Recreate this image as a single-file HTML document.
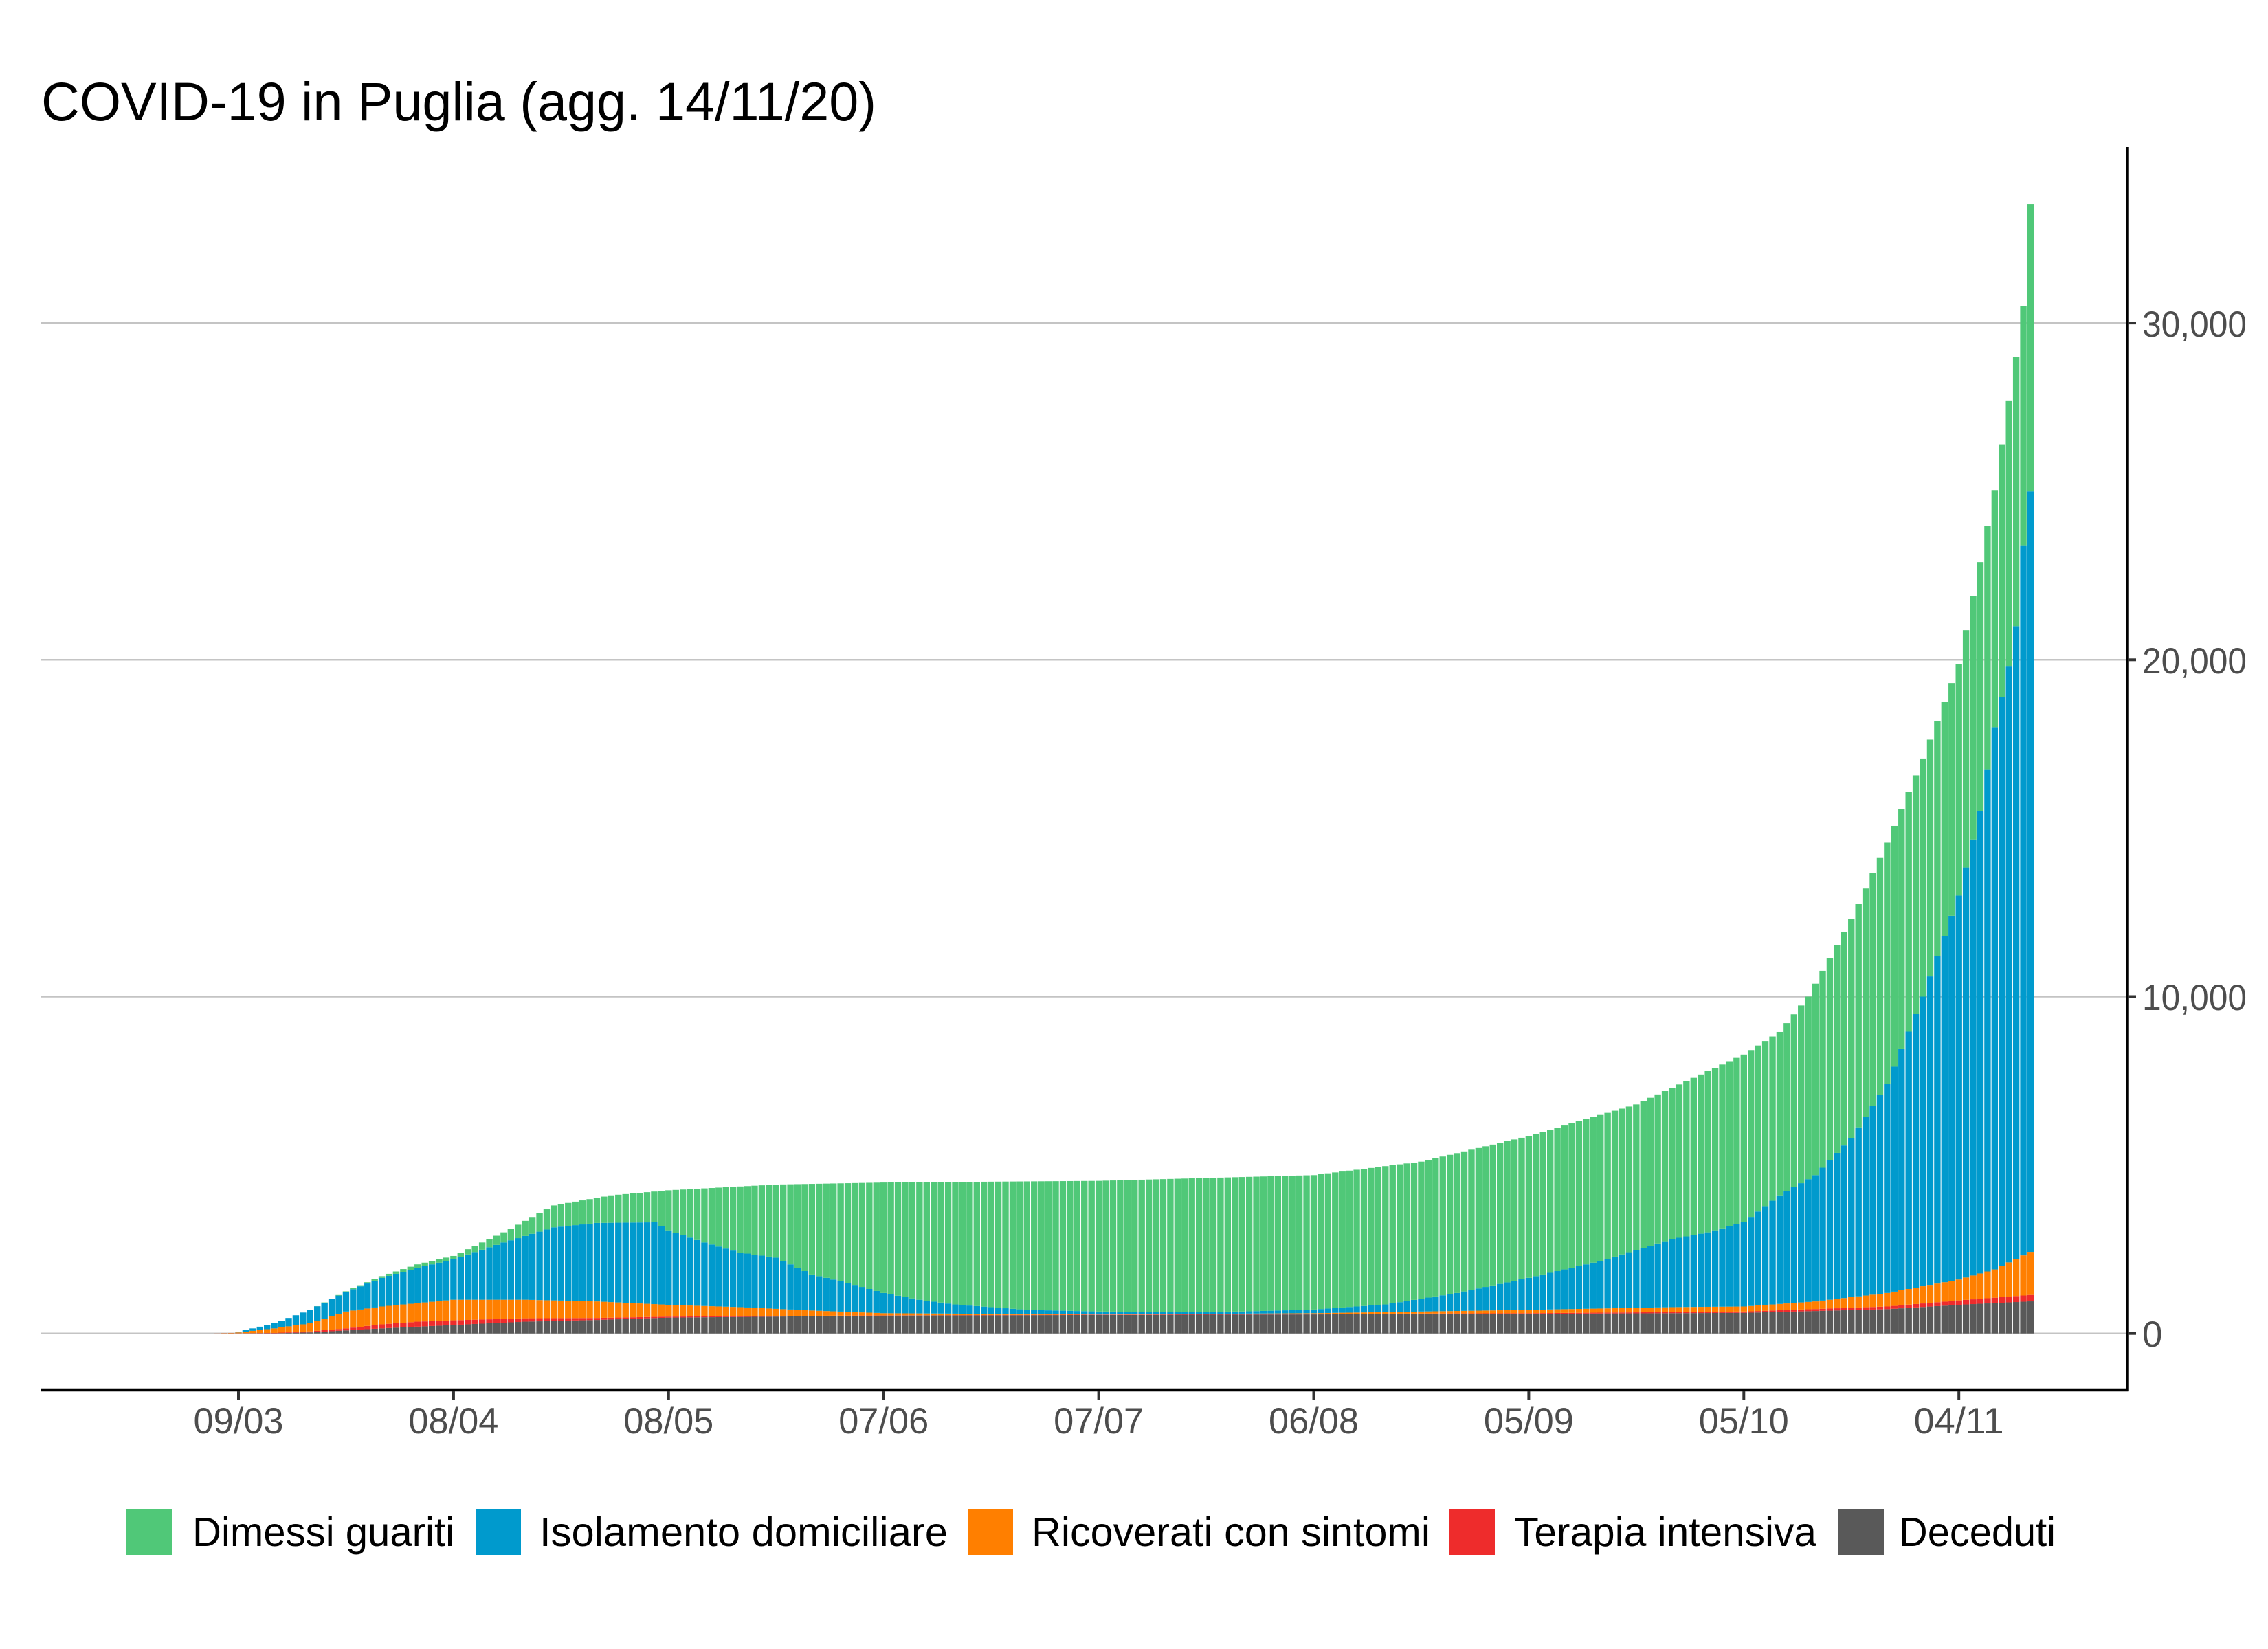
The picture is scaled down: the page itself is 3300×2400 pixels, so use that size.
<!DOCTYPE html>
<html><head><meta charset="utf-8">
<style>
html,body{margin:0;padding:0;background:#fff;}
svg{display:block;}
text{font-family:"Liberation Sans",sans-serif;}
</style></head>
<body>
<svg id="s" width="3300" height="2400" viewBox="0 0 3300 2400" xmlns="http://www.w3.org/2000/svg">
<rect width="3300" height="2400" fill="#fff"/>
<text x="60" y="175" font-size="79" fill="#000" textLength="1215" lengthAdjust="spacingAndGlyphs">COVID-19 in Puglia (agg. 14/11/20)</text>
<g stroke="#c4c4c4" stroke-width="2.5">
<line x1="59" x2="3096" y1="1940.7" y2="1940.7"/>
<line x1="59" x2="3096" y1="1450.5" y2="1450.5"/>
<line x1="59" x2="3096" y1="960.3" y2="960.3"/>
<line x1="59" x2="3096" y1="470.1" y2="470.1"/>
</g>
<g id="bars"></g>
<g stroke="#000" stroke-width="4.5" fill="none">
<line x1="3095.5" y1="214" x2="3095.5" y2="2025"/>
<line x1="59" y1="2023" x2="3097.5" y2="2023"/>
</g>
<g stroke="#333" stroke-width="4">
<line x1="3096" x2="3108" y1="1940.7" y2="1940.7"/>
<line x1="3096" x2="3108" y1="1450.5" y2="1450.5"/>
<line x1="3096" x2="3108" y1="960.3" y2="960.3"/>
<line x1="3096" x2="3108" y1="470.1" y2="470.1"/>
</g>
<g font-size="53" fill="#4d4d4d">
<text x="3117" y="1960">0</text>
<text x="3117" y="1470" textLength="152" lengthAdjust="spacingAndGlyphs">10,000</text>
<text x="3117" y="980" textLength="152" lengthAdjust="spacingAndGlyphs">20,000</text>
<text x="3117" y="490" textLength="152" lengthAdjust="spacingAndGlyphs">30,000</text>
</g>
<g id="xt" stroke="#333" stroke-width="4"></g>
<g id="xl" font-size="53" fill="#4d4d4d" text-anchor="middle"></g>
<g>
<rect x="184" y="2196" width="66" height="67" fill="#50c878"/>
<rect x="692" y="2196" width="66" height="67" fill="#009acd"/>
<rect x="1408" y="2196" width="66" height="67" fill="#ff7f00"/>
<rect x="2109" y="2196" width="66" height="67" fill="#ee2c2c"/>
<rect x="2675" y="2196" width="66" height="67" fill="#595959"/>
</g>
<g font-size="59" fill="#000">
<text x="280" y="2250" textLength="381" lengthAdjust="spacingAndGlyphs">Dimessi guariti</text>
<text x="785" y="2250" textLength="594" lengthAdjust="spacingAndGlyphs">Isolamento domiciliare</text>
<text x="1501" y="2250" textLength="580" lengthAdjust="spacingAndGlyphs">Ricoverati con sintomi</text>
<text x="2203" y="2250" textLength="440" lengthAdjust="spacingAndGlyphs">Terapia intensiva</text>
<text x="2763" y="2250" textLength="228" lengthAdjust="spacingAndGlyphs">Deceduti</text>
</g>
</svg>
<script>
(function(){
var NS="http://www.w3.org/2000/svg";
function interp(pts,d){
 if(d<=pts[0][0])return pts[0][1];
 for(var i=1;i<pts.length;i++){if(d<=pts[i][0]){var a=pts[i-1],b=pts[i];return a[1]+(b[1]-a[1])*(d-a[0])/(b[0]-a[0]);}}
 return pts[pts.length-1][1];
}
var total=[[-4,0],[-3,3],[-1,15],[0,50],[5,300],[10,700],[15,1250],[20,1700],[25,2050],[30,2300],[37,3000],[44,3800],[52,4100],[60,4250],[75,4420],[90,4480],[120,4530],[150,4700],[165,5100],[180,5860],[195,6800],[210,8280],[215,8950],[219,10000],[225,12300],[230,14570],[235,17070],[240,19870],[243,22900],[245,25040],[246,26400],[247,27700],[248,29000],[249,30500],[250,33530]];
var blue=[[-4,0],[-3,3],[-1,15],[0,50],[5,300],[10,700],[15,1230],[20,1650],[25,1950],[30,2200],[37,2700],[44,3150],[50,3280],[58,3300],[60,3060],[65,2700],[70,2400],[75,2250],[80,1750],[85,1500],[90,1200],[95,1000],[100,860],[110,700],[120,650],[130,640],[140,650],[150,710],[160,860],[170,1200],[180,1650],[190,2150],[200,2800],[205,3000],[210,3300],[215,4100],[220,4700],[225,5800],[230,7400],[235,10000],[240,13000],[243,15500],[245,18000],[247,19800],[248,21000],[249,23400],[250,25000]];
var orange=[[-4,0],[-2,10],[0,30],[5,150],[10,300],[15,650],[20,800],[25,900],[30,1000],[40,1000],[50,950],[60,850],[70,780],[80,680],[90,600],[120,560],[150,600],[180,700],[200,780],[210,800],[220,950],[230,1200],[240,1600],[245,1900],[250,2420]];
var red=[[-4,0],[5,15],[10,60],[15,150],[20,270],[25,350],[30,390],[40,450],[50,460],[60,500],[90,535],[180,600],[210,650],[230,800],[240,980],[250,1142]];
var dead=[[-4,0],[5,5],[10,30],[20,150],[30,250],[40,350],[50,400],[60,470],[90,530],[180,580],[210,610],[230,720],[240,850],[250,952]];
var y0=1940.7,k=490.2/10000,px=10.43,x0=347,bw=9.4;
var g=document.getElementById("bars");
function rect(x,ya,yb,c){if(yb-ya<=0)return;var r=document.createElementNS(NS,"rect");r.setAttribute("x",x.toFixed(2));r.setAttribute("y",(y0-yb*k).toFixed(2));r.setAttribute("width",bw);r.setAttribute("height",((yb-ya)*k).toFixed(2));r.setAttribute("fill",c);g.appendChild(r);}
for(var d=-14;d<=250;d++){
 var t=interp(total,d),b=interp(blue,d),o=interp(orange,d),r=interp(red,d),de=interp(dead,d);
 if(b>t)b=t;if(o>b)o=b;if(r>o)r=o;if(de>r)de=r;
 var x=x0+d*px-bw/2;
 rect(x,0,de,"#595959");rect(x,de,r,"#ee2c2c");rect(x,r,o,"#ff7f00");rect(x,o,b,"#009acd");rect(x,b,t,"#50c878");
}
var labs=["09/03","08/04","08/05","07/06","07/07","06/08","05/09","05/10","04/11"];
var xt=document.getElementById("xt"),xl=document.getElementById("xl");
for(var i=0;i<labs.length;i++){
 var x=x0+i*30*px;
 var l=document.createElementNS(NS,"line");l.setAttribute("x1",x);l.setAttribute("x2",x);l.setAttribute("y1",2025);l.setAttribute("y2",2037);xt.appendChild(l);
 var t=document.createElementNS(NS,"text");t.setAttribute("x",x);t.setAttribute("y",2086);t.setAttribute("textLength",131);t.setAttribute("lengthAdjust","spacingAndGlyphs");t.textContent=labs[i];xl.appendChild(t);
}
})();
</script>
</body></html>
